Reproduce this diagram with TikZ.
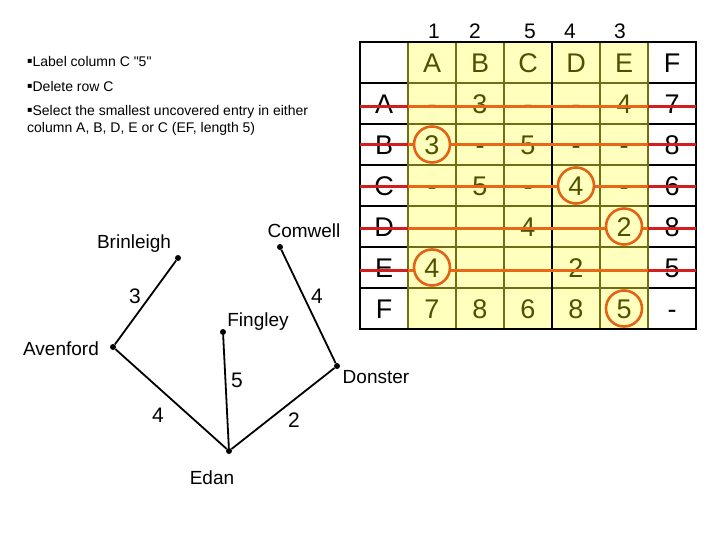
\documentclass[tikz,border=0pt]{standalone}
\usepackage{fontspec}
\setmainfont{Liberation Sans}[Ligatures=TeXOff]
\newfontfamily\symfont{DejaVu Sans}
\newcommand{\notebullet}{\raisebox{3.2pt}{\symfont\fontsize{8}{8}\selectfont ▪}}
\definecolor{cellyellow}{RGB}{255,255,190}
\definecolor{gridolive}{RGB}{110,110,20}
\definecolor{olivetext}{RGB}{80,80,0}
\definecolor{strikered}{RGB}{210,30,30}
\definecolor{strikeorange}{RGB}{232,104,24}
\definecolor{ringorange}{RGB}{228,98,22}
\begin{document}
\begin{tikzpicture}[x=1pt,y=-1pt,
    cell/.style={font=\fontsize{27}{27}\selectfont, text height=19.5pt, text depth=0pt, inner sep=0pt},
    blackval/.style={cell, text=black},
    oliveval/.style={cell, text=olivetext},
    ring/.style={cell, circle, draw=ringorange, line width=2.6pt, fill=cellyellow, minimum size=36pt, text=olivetext},
    colnum/.style={font=\fontsize{21}{21}\selectfont, anchor=base, inner sep=0pt},
    note/.style={font=\fontsize{14}{17}\selectfont, anchor=base west, align=left, inner sep=0pt},
    town/.style={font=\fontsize{19}{19}\selectfont, anchor=base, inner sep=0pt},
    weight/.style={font=\fontsize{21}{21}\selectfont, anchor=base, inner sep=0pt},
    dot/.style={circle, fill=black, inner sep=0pt, minimum size=6pt},
    edge/.style={line width=1.8pt},
    blackgrid/.style={line width=1.5pt, draw=black},
    olivegrid/.style={line width=1.5pt, draw=gridolive},
    redstrike/.style={line width=3pt, draw=strikered},
    orangestrike/.style={line width=3pt, draw=strikeorange}]
    \useasboundingbox (0,0) rectangle (720,540);

    % Instructions
    \node[note] (note1) at (27,67) {\notebullet Label column C "5"};
    \node[note] (note2) at (27,92) {\notebullet Delete row C};
    \node[note] (note3) at (27,133) {\notebullet Select the smallest uncovered entry in either\\column A, B, D, E or C (EF, length 5)};

    % Column labels
    \foreach \x/\n in {434/1, 475/2, 530/5, 570/4, 620/3}
        \node[colnum] (num\n) at (\x,39) {\n};

    % Table background and grid
    \fill[cellyellow] (408,42) rectangle (648,329);
    \foreach \y in {83,124,165,206,247,288} {
        \draw[blackgrid] (360,\y) -- (408,\y);
        \draw[olivegrid] (408,\y) -- (648,\y);
        \draw[blackgrid] (648,\y) -- (696,\y);
    }
    \foreach \x in {408,456,504,600,648}
        \draw[olivegrid] (\x,42) -- (\x,329);
    \draw[blackgrid] (552,42) -- (552,329);
    \draw[line width=2.5pt] (360,42) rectangle (696,329);

    % Header row
    \foreach \h [count=\c] in {A,B,C,D,E}
        \node[oliveval] (head\h) at (384+48*\c,62.5) {\h};
    \node[blackval] (headF) at (672,62.5) {F};

    % Row labels and column F
    \foreach \r/\last [count=\i] in {A/7, B/8, C/6, D/8, E/5, F/-} {
        \node[blackval] (\r-lab) at (384,62.5+41*\i) {\r};
        \node[blackval] (\r-F) at (672,62.5+41*\i) {\last};
    }

    % Entries in columns A-E (row/column/value)
    \foreach \i/\c/\v in {1/1/-, 1/2/3, 1/3/-, 1/4/-, 1/5/4,
                          2/2/-, 2/3/5, 2/4/-, 2/5/-,
                          3/1/-, 3/2/5, 3/3/-, 3/5/-,
                          4/1/-, 4/2/-, 4/3/4, 4/4/-,
                          5/4/2,
                          6/1/7, 6/2/8, 6/3/6, 6/4/8}
        \node[oliveval] (e\i-\c) at (384+48*\c,62.5+41*\i) {\v};

    % Deleted rows
    \foreach \y in {106.5,145,187,229,270} {
        \draw[redstrike] (360,\y) -- (408,\y);
        \draw[orangestrike] (408,\y) -- (648,\y);
        \draw[redstrike] (648,\y) -- (696,\y);
    }

    % Selected entries
    \node[ring] (ringB) at (432,144.5) {3};
    \node[ring] (ringC) at (576,185.5) {4};
    \node[ring] (ringD) at (624,226.5) {2};
    \node[ring] (ringE) at (432,267.5) {4};
    \node[ring] (ringF) at (624,308.5) {5};

    % Network
    \node[dot] (avenford) at (113,347) {};
    \node[dot] (brinleigh) at (178,258) {};
    \node[dot] (comwell) at (280,247) {};
    \node[dot] (donster) at (337,366) {};
    \node[dot] (edan) at (229,451) {};
    \node[dot] (fingley) at (223,332) {};

    \node[town] (avenford-lab) at (61,355) {Avenford};
    \node[town] (brinleigh-lab) at (134,248) {Brinleigh};
    \node[town] (comwell-lab) at (304,237) {Comwell};
    \node[town] (donster-lab) at (376,383) {Donster};
    \node[town] (edan-lab) at (212,484) {Edan};
    \node[town] (fingley-lab) at (258,326) {Fingley};

    \draw[edge] (avenford) -- (brinleigh);
    \draw[edge] (comwell) -- (donster);
    \draw[edge] (avenford) -- (edan);
    \draw[edge] (fingley) -- (edan);
    \draw[edge] (edan) -- (donster);

    \node[weight] (w-ab) at (135,303) {3};
    \node[weight] (w-cd) at (317,303) {4};
    \node[weight] (w-ae) at (158,422) {4};
    \node[weight] (w-fe) at (237,387) {5};
    \node[weight] (w-ed) at (294,427) {2};
\end{tikzpicture}
\end{document}
